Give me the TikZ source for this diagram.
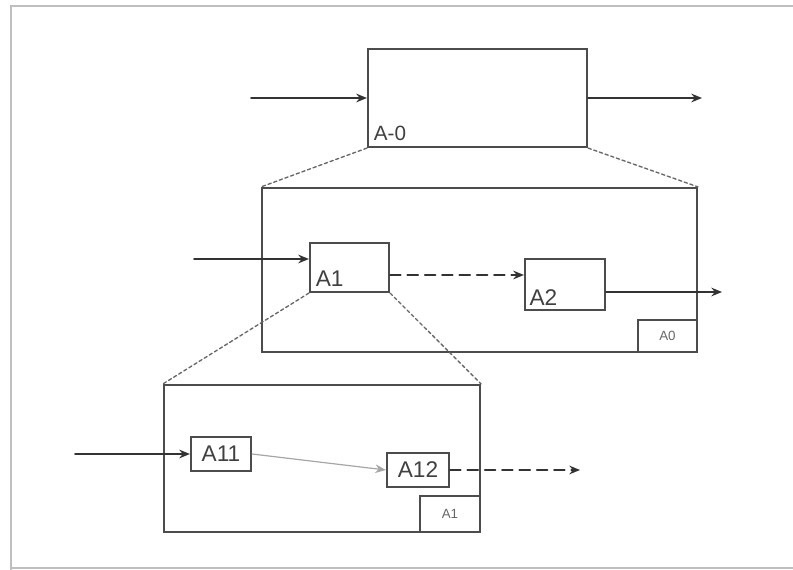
\documentclass[tikz,border=0pt]{standalone}
\usepackage{fontspec}
\setmainfont{Liberation Sans}
\usetikzlibrary{fit,arrows.meta}
\begin{document}
\begin{tikzpicture}[x=0.75pt,y=-0.75pt,line cap=round,>={Stealth[length=8pt,width=6.5pt]},
		box/.style={draw=black!70,line width=1.6pt,inner sep=0pt},
		flow/.style={->,draw=black!80,line width=1.4pt},
		zoomline/.style={draw=black!60,line width=1pt,dash pattern=on 2.5pt off 2pt},
		lbl/.style={text=black!75,font=\fontsize{17}{17}\selectfont},
		tag/.style={text=black!60,font=\fontsize{10}{10}\selectfont}]
	\useasboundingbox (0,0) rectangle (793,570);
	% frame of the page
	\draw[black!25,line width=2pt] (11,570)--(11,6)--(793,6);
	\draw[black!25,line width=2pt] (11,568)--(793,568);
	% level A-0
	\node[box,fit={(368,49) (587,147)},label={[lbl,font=\fontsize{15.5}{15.5}\selectfont,anchor=south west,inner sep=5pt]south west:A-0}] (a0) {};
	\coordinate (in0) at (251,98);
	\coordinate (out0) at (702,98);
	\draw[flow] (in0)--(a0.west);
	\draw[flow] (a0.east)--(out0);
	% level A0
	\node[box,fit={(262,188) (697,352)}] (d0) {};
	\node[box,tag,minimum width=44.25pt,minimum height=24pt] (t0) at (667.5,336) {A0};
	\node[box,fit={(310,243) (389,292)},label={[lbl,anchor=south west,inner sep=5pt]south west:A1}] (a1) {};
	\node[box,fit={(525,259) (605,310)},label={[lbl,anchor=south west,inner sep=4pt]south west:A2}] (a2) {};
	\coordinate (in1) at (194,259);
	\coordinate (out2) at (722,292);
	\draw[flow] (in1)--(in1-|a1.west);
	\draw[flow,dash pattern=on 8pt off 5pt] (a1.east|-0,275)--(a2.west|-0,275);
	\draw[flow] (a2.east|-out2)--(out2);
	% level A1
	\node[box,fit={(164,385) (480,532)}] (d1) {};
	\node[box,tag,minimum width=45pt,minimum height=27pt] (t1) at (450,514) {A1};
	\node[box,lbl,minimum width=45pt,minimum height=25.5pt] (a11) at (221,454) {A11};
	\node[box,lbl,minimum width=46.5pt,minimum height=25.5pt] (a12) at (418,470) {A12};
	\coordinate (in11) at (75,454);
	\coordinate (out12) at (580,470);
	\draw[flow] (in11)--(a11.west);
	\draw[flow,draw=black!35,line width=0.9pt] (a11.east)--(a12.west);
	\draw[flow,dash pattern=on 8pt off 5pt] (a12.east)--(out12);
	% zoom lines
	\draw[zoomline] (a0.south west)--(d0.north west);
	\draw[zoomline] (a0.south east)--(d0.north east);
	\draw[zoomline] (a1.south west)--(d1.north west);
	\draw[zoomline] (a1.south east)--(d1.north east);
\end{tikzpicture}
\end{document}
